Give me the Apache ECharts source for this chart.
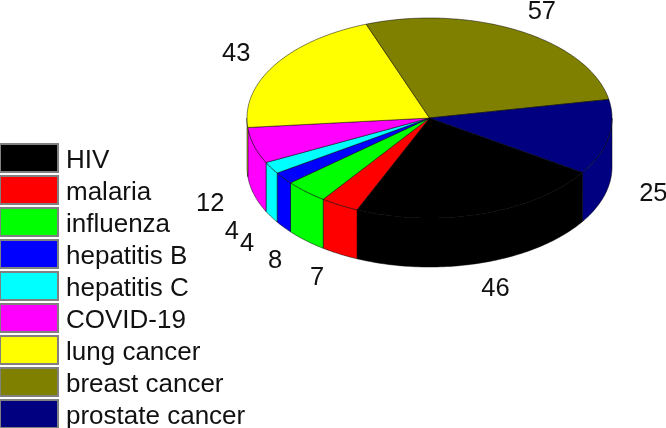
<!DOCTYPE html>
<html>
<head>
<meta charset="utf-8">
<style>html,body{margin:0;padding:0;background:#fff}#c{width:666px;height:428px}</style>
<script src="https://cdn.jsdelivr.net/npm/echarts@6/dist/echarts.min.js"></script>
</head>
<body>
<div id="c"></div>
<script>
const categories = ['HIV','malaria','influenza','hepatitis B','hepatitis C','COVID-19','lung cancer','breast cancer','prostate cancer'];
const cases = [46,7,8,4,4,12,43,57,25];
const colors = ['#000000','#ff0000','#00ff00','#0000ff','#00ffff','#ff00ff','#ffff00','#808000','#000080'];

const FONT = '25.5px "Liberation Sans", Arial, sans-serif';
const pie = {cx:429.5, cy:118, rx:182.5, ry:100, depth:49, firstEnd:57, labelRadiusX:1.25, labelRadiusY:1.24, labelDy:2};
const total = cases.reduce((a,b)=>a+b,0);
const rad = d => d*Math.PI/180;
const px = a => pie.cx + pie.rx*Math.sin(rad(a));
const py = (a,dz) => pie.cy + pie.ry*Math.cos(rad(a)) + (dz||0);
function arc(a0,a1,dz){
  const n = Math.max(2,Math.ceil(Math.abs(a1-a0)));
  const pts = [];
  for(let i=0;i<=n;i++){const a=a0+(a1-a0)*i/n;pts.push([px(a),py(a,dz)]);}
  return pts;
}
const edge = {stroke:'#000', lineWidth:0.5};

function sliceRenderer(index){
  return function(params, api){
    const before = cases.slice(0,index).reduce((a,b)=>a+b,0);
    const v = api.value(0);
    const end = pie.firstEnd - before/total*360;
    const start = end - v/total*360;
    const children = [];
    for(const k of [0,-360]){
      const lo = Math.max(start,-90+k), hi = Math.min(end,90+k);
      if(hi>lo){
        children.push({type:'polygon',
          shape:{points:arc(lo,hi,0).concat(arc(hi,lo,pie.depth))},
          style:Object.assign({fill:colors[index]},edge)});
      }
    }
    children.push({type:'polygon', z2:5,
      shape:{points:[[pie.cx,pie.cy]].concat(arc(start,end,0))},
      style:Object.assign({fill:colors[index]},edge)});
    const mid = (start+end)/2;
    const front = Math.cos(rad(mid))>0;
    children.push({type:'text', z2:6,
      style:{text:String(v),
        x:pie.cx+pie.rx*pie.labelRadiusX*Math.sin(rad(mid)),
        y:pie.cy+pie.ry*pie.labelRadiusY*Math.cos(rad(mid))+(front?pie.depth+1:0)+pie.labelDy,
        align:'center', verticalAlign:'middle', fill:'#111', font:FONT}});
    return {type:'group',children};
  };
}

const chart = echarts.init(document.getElementById('c'),null,{renderer:'canvas'});
chart.setOption({
  animation:false,
  backgroundColor:'#fff',
  legend:{
    orient:'vertical', left:-1, top:142, height:300, padding:0,
    itemWidth:58, itemHeight:28, itemGap:0, selectedMode:false, icon:'rect',
    data:categories,
    formatter:'{a|{name}}',
    textStyle:{rich:{a:{fontFamily:'"Liberation Sans", Arial, sans-serif', fontSize:26, color:'#111', lineHeight:26, padding:[6,0,0,3]}}}
  },
  series:categories.map((name,i)=>({
    type:'custom', name, coordinateSystem:'none',
    itemStyle:{color:colors[i], borderColor:'#808080', borderWidth:0.5},
    renderItem:sliceRenderer(i),
    data:[[cases[i]]], silent:true
  }))
});
</script>
</body>
</html>
